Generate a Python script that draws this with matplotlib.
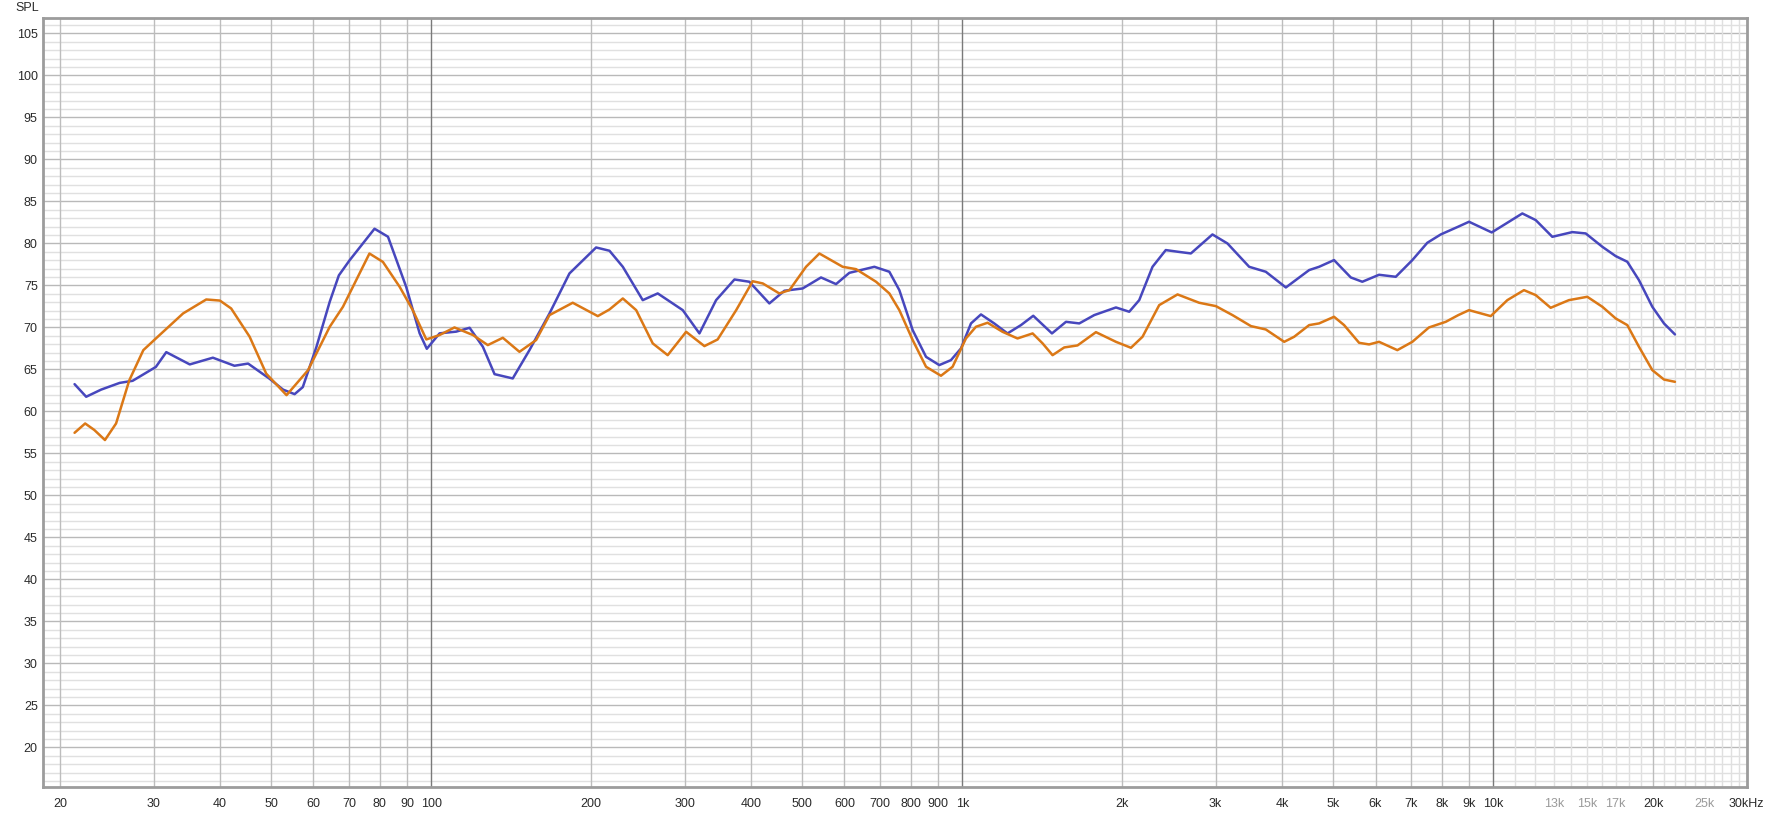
import matplotlib
matplotlib.use("Agg")
import matplotlib.pyplot as plt
from matplotlib.ticker import FixedLocator, NullLocator

# ---------------- data ----------------
blue_freq = [21.3, 22.4, 23.9, 25.9, 27.4, 30.3, 31.7, 35.1, 38.8, 42.6, 45.2, 49.6,
             52.6, 55.3, 57.3, 60.8, 64.4, 67.0, 70.2, 78.2, 82.9, 89.7, 95.1, 98.1,
             103.7, 111.4, 118.1, 125.1, 131.6, 142.4, 153.1, 167.0, 182.1, 204.4,
             216.6, 229.5, 250.2, 267.0, 284.9, 297.6, 319.9, 343.9, 372.4, 397.2,
             433.2, 462.4, 500.5, 542.0, 578.5, 612.8, 683.1, 728.9, 761.2, 806.5,
             854.6, 905.1, 952.1, 994.3, 1038.5, 1084.5, 1148.6, 1216.7, 1289.9,
             1360.4, 1475.3, 1567.9, 1660.8, 1772.2, 1947.0, 2062.5, 2153.8, 2281.6,
             2416.5, 2553.9, 2694.6, 2958.6, 3157.5, 3469.4, 3728.6, 4067.7, 4499.9,
             4698.0, 5012.9, 5390.6, 5666.4, 6092.5, 6551.0, 7039.6, 7511.1, 7961.7,
             8591.8, 9000, 9931, 10626, 11340, 12018, 12915, 14085, 14927, 16044,
             17001, 17877, 18804, 19925, 20958, 21979]
blue_spl = [63.25, 61.75, 62.6, 63.4, 63.65, 65.3, 67.06, 65.6, 66.4, 65.44, 65.7, 63.9,
            62.6, 62.06, 62.9, 67.7, 73.06, 76.2, 78.0, 81.75, 80.8, 74.84, 69.3, 67.46,
            69.3, 69.5, 69.96, 67.7, 64.44, 63.93, 67.3, 71.67, 76.43, 79.52,
            79.13, 77.22, 73.25, 74.05, 72.86, 72.06, 69.29, 73.25, 75.71, 75.44,
            72.86, 74.37, 74.64, 75.95, 75.16, 76.5, 77.22, 76.63, 74.44, 69.68,
            66.5, 65.52, 66.11, 67.5, 70.48, 71.55, 70.48, 69.29, 70.28,
            71.39, 69.29, 70.67, 70.48, 71.47, 72.38, 71.87, 73.25, 77.22,
            79.21, 79.0, 78.81, 81.07, 80.0, 77.22, 76.63, 74.76, 76.83,
            77.22, 78.02, 75.95, 75.44, 76.27, 76.03, 78.02, 80.08, 81.07,
            82.0, 82.58, 81.31, 82.46, 83.57, 82.78, 80.79, 81.35, 81.19, 79.6,
            78.49, 77.82, 75.63, 72.46, 70.48, 69.17]

orange_freq = [21.3, 22.3, 23.2, 24.3, 25.5, 27.0, 28.7, 30.8, 34.1, 37.7, 40.0, 42.0,
               45.5, 48.9, 53.4, 58.6, 64.4, 68.2, 76.5, 81.1, 87.2, 92.3, 97.9, 103.7,
               110.6, 119.8, 127.8, 136.4, 146.6, 157.6, 167.0, 184.7, 205.9, 216.6,
               229.5, 243.2, 261.3, 278.8, 302.0, 326.9, 346.2, 375.2, 403.0, 421.0,
               452.3, 472.6, 507.9, 538.2, 595.4, 630.8, 688.1, 728.9, 761.2, 806.5,
               854.6, 911.8, 958.9, 1016, 1061, 1115.9, 1190.8, 1270.6, 1356.7, 1416.8,
               1479.1, 1555.9, 1648.2, 1785.2, 1947, 2077.8, 2184.7, 2348.8, 2543.2,
               2793.0, 3002.6, 3227.2, 3496.4, 3728.6, 4038.4, 4216.5, 4499.9, 4698,
               5012.9, 5236.0, 5588.1, 5835.4, 6092.5, 6595.9, 7039.6, 7564.9, 8136,
               8591.8, 9000, 9888, 10626, 11421, 12018, 12823, 13877, 15030, 16044,
               17001, 17877, 18804, 19925, 20958, 21979]
orange_spl = [57.46, 58.57, 57.8, 56.6, 58.57, 63.7, 67.3, 69.1, 71.67, 73.33, 73.2, 72.26,
              68.9, 64.5, 61.94, 64.9, 70.08, 72.46, 78.8, 77.8, 74.84, 72.06, 68.57, 69.1,
              70.0, 69.1, 67.9, 68.77, 67.1, 68.5, 71.47, 72.94, 71.35, 72.14,
              73.45, 72.06, 68.1, 66.7, 69.48, 67.78, 68.57, 72.06, 75.5, 75.24,
              74.05, 74.44, 77.22, 78.8, 77.22, 76.94, 75.44, 74.05, 72.06, 68.5,
              65.32, 64.25, 65.32, 68.69, 70.08, 70.56, 69.48, 68.69, 69.29, 68.1,
              66.7, 67.62, 67.86, 69.44, 68.29, 67.58, 68.89, 72.66, 73.93,
              72.94, 72.54, 71.47, 70.16, 69.76, 68.29, 68.89, 70.28, 70.48,
              71.27, 70.28, 68.17, 67.98, 68.29, 67.3, 68.29, 70.0, 70.67,
              71.47, 72.06, 71.35, 73.25, 74.44, 73.85, 72.34, 73.25, 73.65, 72.46,
              71.07, 70.28, 67.7, 64.92, 63.8, 63.53]

x_tick_vals = [20, 30, 40, 50, 60, 70, 80, 90, 100, 200, 300, 400, 500, 600, 700, 800, 900,
               1000, 2000, 3000, 4000, 5000, 6000, 7000, 8000, 9000, 10000,
               13000, 15000, 17000, 20000, 25000, 30000]
x_tick_labels = ["20", "30", "40", "50", "60", "70", "80", "90", "100", "200", "300", "400",
                 "500", "600", "700", "800", "900", "1k", "2k", "3k", "4k", "5k", "6k", "7k",
                 "8k", "9k", "10k", "13k", "15k", "17k", "20k", "25k", "30kHz"]
gray_labels = {"13k", "15k", "17k", "25k"}
y_tick_vals = list(range(20, 106, 5))

# ---------------- figure ----------------
plt.rcParams['font.family'] = ['Liberation Sans', 'DejaVu Sans']
fig = plt.figure(figsize=(17.69, 8.13), dpi=100)
ax = fig.add_axes([0.02448, 0.0320, 0.96291, 0.9455])
ax.set_xscale('log')
ax.set_xlim(18.6, 30000)
ax.set_ylim(15.3, 106.8)

# grid lines
for db in range(16, 107):
    major = db % 5 == 0
    ax.axhline(db, color='#b9b9b9' if major else '#e0e0e0', lw=1.0, zorder=1)
vlines = []
for dec in [10, 100, 1000]:
    for m in range(2, 10):
        vlines.append(m * dec)
for f in vlines:
    if f >= 19:
        ax.axvline(f, color='#bdbdbd', lw=1.0, zorder=1.5)
for f in range(11000, 30000, 1000):
    if f == 20000:
        ax.axvline(f, color='#bdbdbd', lw=1.0, zorder=1.5)
    else:
        ax.axvline(f, color='#e0e0e0', lw=1.0, zorder=1.2)
for f in [100, 1000, 10000]:
    ax.axvline(f, color='#7a7a7a', lw=1.0, zorder=1.6)

# curves
ax.plot(blue_freq, blue_spl, color='#4747bd', lw=1.8, zorder=3,
        solid_joinstyle='round', solid_capstyle='round')
ax.plot(orange_freq, orange_spl, color='#db7816', lw=1.8, zorder=4,
        solid_joinstyle='round', solid_capstyle='round')

# ticks
ax.xaxis.set_major_locator(FixedLocator(x_tick_vals))
ax.xaxis.set_minor_locator(NullLocator())
ax.set_xticklabels(x_tick_labels)
ax.yaxis.set_major_locator(FixedLocator(y_tick_vals))
ax.yaxis.set_minor_locator(NullLocator())
ax.tick_params(axis='both', length=0, labelsize=9, labelcolor='#2a2a2a')
ax.tick_params(axis='x', pad=8)
ax.tick_params(axis='y', pad=4)
for lab in ax.get_xticklabels():
    if lab.get_text() in gray_labels:
        lab.set_color('#9a9a9a')

for s in ax.spines.values():
    s.set_color('#9c9c9c')
    s.set_linewidth(2.0)
    s.set_zorder(5)

fig.text(0.0085, 0.9905, "SPL", fontsize=9, color='#2a2a2a', ha='left', va='center')

fig.savefig("out.png", dpi=100, facecolor='white')
